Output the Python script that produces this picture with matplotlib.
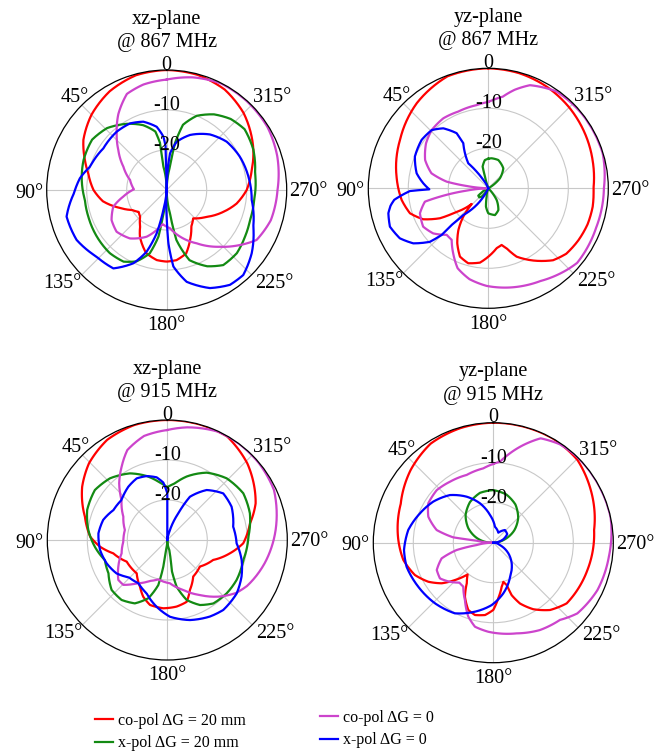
import matplotlib
matplotlib.use('Agg')
import matplotlib.pyplot as plt
from matplotlib.lines import Line2D
import numpy as np

plt.rcParams['font.family'] = ['Liberation Serif', 'DejaVu Serif']

# ── data: (angle in deg, gain in dB) ─────────────────────────────────
# xz-plane @ 867 MHz
xz867_red_ang = [0, 15, 30, 45, 59, 70, 78, 90, 100, 111, 120, 128, 135, 144, 150, 162, 172, 180, 188,
                 197, 205, 214, 223, 236, 249, 259, 270, 283, 295, 315, 330, 345, 360]
xz867_red_db = [0, -0.3, -1.5, -3.4, -5.7, -8.25, -9.95, -11.7, -13.8, -17.5, -20.0, -21.1, -20.6,
                -18.7, -16.6, -13.4, -12.3, -12.1, -12.3, -13.4, -16.2, -19.0, -20.3, -18.0, -14.8,
                -12.2, -10.0, -8.2, -6.1, -2.8, -1.0, -0.2, 0]
xz867_grn_ang = [0, 8, 8, 11, 20, 31, 44, 56, 70, 83, 97, 109, 124, 138, 149, 157, 165, 170, 172, 180,
                 188, 191, 198, 208, 217, 228, 239, 250, 264, 281, 295, 308, 318, 328, 338, 346, 350,
                 352, 360]
xz867_grn_db = [-30, -24.1, -18.2, -15.1, -12.75, -10.7, -8.5, -7.5, -7.9, -8.6, -9.4, -9.3, -9.0, -8.75,
                -9.1, -10.6, -13.6, -18.2, -24.1, -30, -24.1, -17.25, -11.55, -8.4, -6.5, -6.4, -7.2,
                -7.85, -8.0, -7.5, -6.1, -5.3, -6.1, -7.7, -10.0, -13.2, -18.15, -24.1, -30]
xz867_mag_ang = [0, 12.5, 22.5, 32.5, 41.4, 50.4, 61.7, 74.7, 88.8, 98.7, 107.4, 118.6, 129.8, 142.8,
                 156.8, 169.7, 173.3, 185, 195.9, 209.4, 223.3, 233.1, 240.9, 253.8, 270, 287, 302,
                 318, 333, 347, 360]
xz867_mag_db = [-2.4, -3.0, -4.0, -7.5, -11.1, -14.3, -17.7, -20.5, -21.8, -19.0, -16.0, -14.3, -13.7,
                -14.8, -17.3, -20.7, -21.4, -20.4, -17.9, -14.7, -10.5, -7.1, -4.3, -2.9, -2.3, -1.1,
                -0.3, -0.1, -0.1, -1.1, -2.4]
xz867_blu_ang = [0, 1.6, 1.3, 3.6, 9, 18.9, 28.8, 40.6, 56.7, 73.1, 82.3, 92, 101.5, 104.9, 119, 133.6,
                 145.8, 155.6, 162, 167, 170.5, 176, 180, 181.8, 185, 192.3, 203.8, 213.7, 222, 233.3,
                 247.1, 263.3, 279.3, 294.4, 308.9, 322.1, 337, 348.3, 354.8, 356.7, 360]
xz867_blu_db = [-30, -24.2, -19.2, -16.6, -14.0, -11.95, -11.0, -10.8, -11.05, -9.97, -8.1, -6.8, -4.8,
                -4.1, -4.25, -5.8, -6.3, -9.9, -13.8, -18.9, -24.9, -30, -23.3, -16.7, -10.8, -6.5,
                -3.2, -1.5, -1.4, -3.5, -6.5, -8.6, -9.3, -9.9, -10.75, -12.4, -15.05, -17.7, -20.8,
                -24.2, -30]

# yz-plane @ 867 MHz
yz867_red_ang = [0, 20, 40, 61, 83, 97.7, 107.7, 115.5, 121.8, 125.5, 131.3, 133.4, 138.6, 144.3,
                 150.6, 157.5, 165, 173.6, 180, 188, 193.2, 197, 202.5, 212, 222, 230, 240, 250, 260,
                 270, 285, 300, 315, 330, 345, 360]
yz867_red_db = [0, -0.2, -2.2, -4.8, -6.9, -8.15, -9.45, -12.0, -15.8, -19.25, -22.8, -24.3, -20.5,
                -17.2, -14.2, -11.5, -10.6, -11.3, -12.9, -14.9, -15.45, -14.3, -11.5, -8.7, -5.8,
                -4.55, -4.0, -3.6, -3.5, -3.7, -3.0, -2.2, -1.4, -0.7, -0.2, 0]
yz867_grn_ang = [0, 7, 14.7, 15.9, 20, 110, 123, 126.3, 135, 141.3, 150, 160, 168.7, 172.7, 180, 194,
                 204.8, 215.5, 225, 300, 310.6, 323.1, 340.6, 353.7, 360]
yz867_grn_db = [-22.6, -22.9, -24.4, -27.0, -30, -30, -28.0, -26.9, -26.8, -27.3, -29.5, -29.5, -27.9,
                -25.4, -23.75, -23.1, -24.0, -26.4, -30, -30, -26.2, -23.75, -22.5, -22.45, -22.6]
yz867_mag_ang = [0, 8, 21.4, 32.7, 44.2, 54.2, 65.9, 75.2, 80.9, 83.9, 88, 92, 96.1, 99.8, 101.9, 110.1,
                 120.5, 129.3, 138.2, 144.6, 151.7, 159, 168.3, 179, 192.6, 209.4, 223.8, 230, 250,
                 270, 287, 308, 325, 338, 345, 351, 357, 360]
yz867_mag_db = [-8.4, -9.0, -9.4, -9.2, -9.7, -10.8, -12.7, -15.3, -19.45, -24.55, -29.5, -29.5, -24.55,
                -17.75, -13.8, -11.8, -11.1, -12.2, -14.4, -14.2, -11.5, -8.6, -6.8, -5.6, -4.6,
                -3.4, -1.7, -1.0, -1.3, -1.1, -0.1, -0.1, -0.4, -2.2, -4.5, -6.8, -7.9, -8.4]
yz867_blu_ang = [22, 31, 35, 38.7, 33.7, 29, 29.9, 36.9, 44.2, 54, 66.6, 78.2, 85.6, 91, 92, 97, 100,
                 104, 111.3, 119.5, 126.3, 132.5, 135, 135, 136.9, 145, 155]
yz867_blu_db = [-30, -27.6, -24.9, -22.0, -19.5, -17.1, -14.1, -11.25, -9.7, -9.4, -10.0, -11.7, -13.7,
                -15.25, -10.4, -6.3, -5.2, -4.25, -3.6, -4.6, -6.75, -10.2, -13.5, -17.05, -20.85,
                -24.9, -30]

# xz-plane @ 915 MHz
xz915_red_ang = [0, 16, 31, 45.6, 58, 74.2, 87.5, 95.7, 103.9, 118, 137.4, 149.6, 157, 165.1, 176.6,
                 188, 197.4, 204.4, 215.3, 230.8, 246.5, 258, 267.5, 281.4, 292.5, 313.8, 330, 344, 360]
xz915_red_db = [0, -0.1, -0.8, -2.6, -4.9, -8.6, -10.7, -13.1, -16.1, -18.5, -18.7, -16.5, -14.6,
                -13.2, -12.9, -13.2, -13.8, -16.3, -18.8, -19.5, -17.5, -14.0, -11.0, -8.9, -6.1,
                -2.3, -0.1, 0, 0]
xz915_grn_ang = [0, 7.3, 17.9, 29.3, 42.9, 55.4, 69.4, 82.8, 95.3, 107.8, 119.5, 131.9, 142.7, 152.9,
                 162, 168.7, 171.5, 172.4, 180, 191.3, 188.2, 191.3, 197.9, 206.7, 216, 228, 240,
                 255.3, 272.4, 287.9, 301.6, 316.1, 329.7, 343, 352.3, 360]
xz915_grn_db = [-16.8, -15.55, -13.2, -10.9, -8.95, -8.0, -8.6, -10.1, -11.8, -13.6, -13.1, -11.3,
                -11.15, -12.2, -14.7, -18.5, -23.3, -27.5, -30, -27.45, -22.4, -18.1, -14.25, -11.8,
                -10.4, -10.05, -10.0, -10.35, -9.7, -8.3, -7.7, -8.6, -10.5, -13.4, -15.7, -16.8]
xz915_mag_ang = [0, 12.6, 24, 31.9, 40.3, 48.8, 62, 76.7, 92.2, 106.3, 118.6, 129.2, 135.6, 144.7,
                 157.1, 167.1, 183.5, 197.7, 210.7, 222.9, 232.4, 240, 256.4, 275.3, 295.1, 310, 323,
                 335, 350, 360]
xz915_mag_db = [-2.5, -3.35, -5.4, -8.4, -11.4, -14.8, -17.55, -19.1, -19.0, -18.1, -16.05, -14.2,
                -14.3, -16.7, -18.9, -19.9, -19.15, -16.9, -14.0, -10.7, -8.3, -7.0, -5.0, -2.8,
                -0.55, -0.1, 0, -0.1, -1.4, -2.5]
xz915_blu_ang = [0, 0, 0, 4, 9.7, 17.9, 26.4, 36.2, 48.8, 60.9, 72.6, 84.5, 98.4, 111, 123.3, 134.2,
                 146.2, 158.8, 170.9, 182, 195.8, 209.1, 218.7, 232.4, 243.7, 254.9, 267.2, 281.4,
                 297.4, 309.8, 321.8, 332.4, 337.6, 345, 352]
xz915_blu_db = [-30, -24.2, -18.3, -15.6, -14.1, -13.2, -12.8, -13.5, -14.8, -14.6, -13.2, -12.7,
                -13.0, -13.75, -14.8, -16.6, -17.0, -15.7, -13.1, -10.8, -9.2, -8.1, -7.6, -8.1,
                -9.3, -10.75, -12.65, -13.2, -11.9, -11.8, -14.1, -17.8, -22.8, -27.4, -30]

# yz-plane @ 915 MHz
yz915_red_ang = [0, 16, 32.3, 48.8, 67.2, 88.4, 100.9, 112.4, 121, 128.2, 134.2, 141, 146.8, 152.3,
                 159.6, 165.8, 173.5, 180, 185.1, 190.8, 194.4, 197.6, 199.3, 203.7, 211, 220.1,
                 230.4, 253.8, 277.2, 298.4, 314.5, 330, 344, 360]
yz915_red_db = [0, -0.2, -0.7, -2.5, -4.9, -6.25, -7.1, -8.8, -11.05, -13.6, -16.6, -19.8, -17.9,
                -14.75, -12.05, -11.35, -11.8, -13.2, -16.05, -18.8, -19.9, -18.9, -16.1, -13.4,
                -10.6, -8.0, -6.2, -5.5, -4.6, -2.3, -0.5, 0, 0, 0]
yz915_grn_ang = [-90, -75, -60, -45, -30, -15, 0, 15, 30, 45, 60, 75, 90]
yz915_grn_db = [-30, -27.3, -24.0, -21.2, -18.95, -17.5, -16.85, -17.1, -18.3, -20.2, -22.8, -25.9,
                -29.3]
yz915_mag_ang = [0, 7.7, 21.5, 35.4, 47.1, 58.8, 68.2, 77.4, 82.4, 83.2, 90, 98, 101.3, 106.9, 115.8,
                 123.8, 132, 139.6, 145.7, 153.7, 161.3, 167.7, 176.8, 194.4, 208.1, 220.8, 229.9,
                 245.5, 263.1, 282.3, 300, 315, 326, 335.6, 343, 350, 355.3, 360]
yz915_mag_db = [-10.3, -11.25, -11.8, -11.3, -10.7, -11.0, -12.5, -15.5, -19.9, -25.8, -30, -25.8,
                -20.65, -16.5, -14.3, -13.95, -15.4, -16.9, -16.7, -14.0, -10.5, -8.5, -7.7, -6.6,
                -5.25, -4.5, -2.55, -1.4, -0.9, 0, 0, 0, -0.3, -1.35, -4.5, -7.5, -9.7, -10.3]
yz915_blu_ang = [-90, -71.6, -58.2, -42.6, -26.6, -6, 6.9, 18.7, 30.1, 42.3, 55.7, 68.2, 81.5, 94.7,
                 105.5, 120.4, 136.1, 151.5, 165.1, 178.5, 191.2, 206.2, 221.8, 234.8, 250, 270]
yz915_blu_db = [-30, -27.4, -25.9, -25.7, -27.2, -26.0, -23.0, -19.6, -16.7, -13.9, -11.8, -10.25,
                -8.5, -7.6, -7.5, -8.25, -8.97, -9.9, -12.15, -14.4, -17.1, -20.5, -23.1, -25.4,
                -28.2, -30]

titles = ['xz-plane\n@ 867 MHz', 'yz-plane\n@ 867 MHz', 'xz-plane\n@ 915 MHz', 'yz-plane\n@ 915 MHz']
theta_ticks = [0, 45, 90, 135, 180, 225, 270, 315]
theta_labels = ['0', '45°', '90°', '135°', '180°', '225°', '270°', '315°']
legend_labels = ['co-pol ΔG = 20 mm', 'x-pol ΔG = 20 mm', 'co-pol ΔG = 0', 'x-pol ΔG = 0']

RED, GRN, MAG, BLU = '#ff0000', '#138a13', '#cc44cc', '#0000ff'

panels = [
    [(xz867_red_ang, xz867_red_db), (xz867_grn_ang, xz867_grn_db),
     (xz867_mag_ang, xz867_mag_db), (xz867_blu_ang, xz867_blu_db)],
    [(yz867_red_ang, yz867_red_db), (yz867_grn_ang, yz867_grn_db),
     (yz867_mag_ang, yz867_mag_db), (yz867_blu_ang, yz867_blu_db)],
    [(xz915_red_ang, xz915_red_db), (xz915_grn_ang, xz915_grn_db),
     (xz915_mag_ang, xz915_mag_db), (xz915_blu_ang, xz915_blu_db)],
    [(yz915_red_ang, yz915_red_db), (yz915_grn_ang, yz915_grn_db),
     (yz915_mag_ang, yz915_mag_db), (yz915_blu_ang, yz915_blu_db)],
]

W, H = 663, 752
# axes centres in pixels, radius 120 px (= 30 dB)
centres = [(166.7, 190), (488.3, 188.3), (167.3, 540), (493.3, 542.7)]
R = 120
FS = 14.5
# centre of each angle label relative to the plot centre, px (x right, y up)
label_off = [(0, 125), (-92, 92), (-137.5, -3), (-104, -93), (0, -136), (108, -93), (142, -2),
             (105, 92)]

fig = plt.figure(figsize=(W / 100, H / 100), dpi=100)

for (cx, cy), title, curves in zip(centres, titles, panels):
    ax = fig.add_axes([(cx - R) / W, (H - cy - R) / H, 2 * R / W, 2 * R / H],
                      projection='polar')
    ax.set_theta_zero_location('N')
    ax.set_theta_direction(1)
    for (a, d), c in zip(curves, [RED, GRN, MAG, BLU]):
        ln, = ax.plot(np.radians(a), d, color=c, lw=1.6, solid_joinstyle='round')
        ln.get_path()._interpolation_steps = 24   # follow arcs between samples
    ax.set_ylim(-30, 0)
    ax.set_yticks([-20, -10])
    ax.set_yticklabels([])
    ax.set_xticks(np.radians(theta_ticks))
    ax.set_xticklabels([])
    ax.grid(True, color='#c8c8c8', lw=0.8)
    ax.spines['polar'].set_linewidth(0.9)
    ax.spines['polar'].set_color('black')
    for lab, (dx, dy) in zip(theta_labels, label_off):
        ax.text(0.5 + dx / (2 * R), 0.5 + dy / (2 * R), lab, transform=ax.transAxes,
                ha='center', va='center', fontsize=FS, clip_on=False)
    for v in (-10, -20):
        ax.text(0, v, str(v), ha='center', va='baseline', fontsize=FS, zorder=10)
    ax.text(0.5, 1.163, title, transform=ax.transAxes, ha='center', va='center',
            fontsize=FS, linespacing=1.3)

# ── legend ───────────────────────────────────────────────────────
handles = [Line2D([], [], color=c, lw=1.6) for c in (RED, GRN, MAG, BLU)]
common = dict(loc='upper left', frameon=False, fontsize=11.5, handlelength=1.13,
              handletextpad=0.31, labelspacing=0.4, borderpad=0, borderaxespad=0)
fig.legend(handles[:2], legend_labels[:2], bbox_to_anchor=(95 / W, 1 - 713 / H), **common)
fig.legend(handles[2:], legend_labels[2:], bbox_to_anchor=(320 / W, 1 - 710 / H), **common)

fig.savefig('out.png', dpi=100)
